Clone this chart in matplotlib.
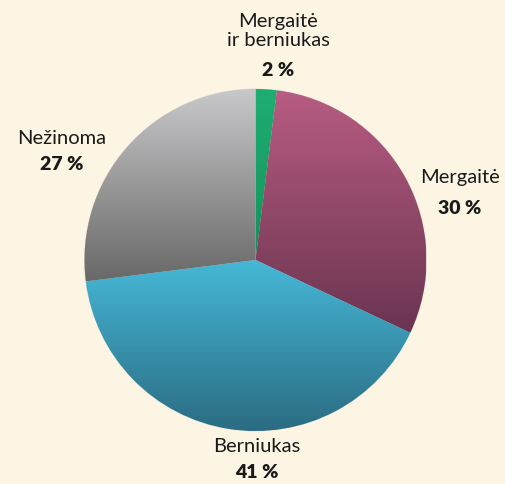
import matplotlib
matplotlib.use("Agg")
import matplotlib.pyplot as plt
import numpy as np
from matplotlib.colors import LinearSegmentedColormap

labels = ["Mergaitė\nir berniukas", "Mergaitė", "Berniukas", "Nežinoma"]
values = [2, 30, 41, 27]
pct_labels = ["2 %", "30 %", "41 %", "27 %"]
top_colors = ["#1fae72", "#b85c82", "#46b8d8", "#c9c9cb"]
bottom_colors = ["#14925c", "#6a3450", "#2a6a80", "#686868"]

W, H = 506, 484
fig = plt.figure(figsize=(W / 100, H / 100), dpi=100)
bg = "#fcf5e3"
fig.patch.set_facecolor(bg)
ax = fig.add_axes([0, 0, 1, 1])
ax.set_xlim(0, W)
ax.set_ylim(0, H)
ax.set_aspect("equal")
ax.axis("off")

cx, cy, r = 255.5, H - 260, 171
wedges, _ = ax.pie(values, startangle=90, counterclock=False, center=(cx, cy),
                   radius=r, frame=True,
                   wedgeprops=dict(linewidth=0.6, edgecolor="#e8e0d0"))
ax.set_xlim(0, W)
ax.set_ylim(0, H)
ax.axis("off")

grad = np.linspace(1, 0, 256).reshape(-1, 1)
for w, tc, bc in zip(wedges, top_colors, bottom_colors):
    w.set_facecolor(tc)
    path = w.get_path().transformed(w.get_patch_transform())
    verts = path.vertices
    y0, y1 = verts[:, 1].min(), verts[:, 1].max()
    cmap = LinearSegmentedColormap.from_list("g", [bc, tc])
    im = ax.imshow(grad, cmap=cmap, extent=(cx - r, cx + r, y0, y1),
                   origin="upper", aspect="auto", zorder=w.get_zorder() + 0.1,
                   interpolation="bicubic")
    im.set_clip_path(w)

ax.set_xlim(0, W)
ax.set_ylim(0, H)

fam = ["Lato", "DejaVu Sans"]
tc_ = "#1a1a1a"
pos = [(278, 31, 70), (460, 178, 208), (257, 447, 472), (62, 139, 165)]
for (x, yl, yp), lab, p in zip(pos, labels, pct_labels):
    ax.text(x, H - yl, lab, ha="center", va="center", fontsize=14.5,
            family=fam, color=tc_, linespacing=1.2)
    ax.text(x, H - yp, p, ha="center", va="center", fontsize=14,
            family=fam, color=tc_, fontweight="heavy")

fig.savefig("out.png", dpi=100, facecolor=bg)
